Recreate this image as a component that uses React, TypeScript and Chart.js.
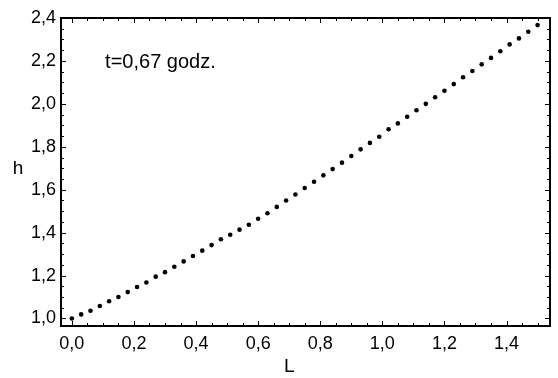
import React, { useEffect, useRef } from "react";
import { Chart, registerables } from "chart.js";

Chart.register(...registerables);

const L_VALUES = [
  0.0, 0.03, 0.06, 0.09, 0.12, 0.15, 0.18, 0.21, 0.24, 0.27,
  0.3, 0.33, 0.36, 0.39, 0.42, 0.45, 0.48, 0.51, 0.54, 0.57,
  0.6, 0.63, 0.66, 0.69, 0.72, 0.75, 0.78, 0.81, 0.84, 0.87,
  0.9, 0.93, 0.96, 0.99, 1.02, 1.05, 1.08, 1.11, 1.14, 1.17,
  1.2, 1.23, 1.26, 1.29, 1.32, 1.35, 1.38, 1.41, 1.44, 1.47,
  1.5,
];

const H_VALUES = [
  1.0, 1.019, 1.036, 1.058, 1.08, 1.1, 1.123, 1.147, 1.168, 1.195,
  1.216, 1.241, 1.266, 1.291, 1.316, 1.342, 1.369, 1.39, 1.414, 1.437,
  1.465, 1.49, 1.52, 1.55, 1.578, 1.608, 1.637, 1.667, 1.696, 1.726,
  1.757, 1.788, 1.818, 1.847, 1.882, 1.909, 1.94, 1.97, 2.0, 2.031,
  2.061, 2.092, 2.124, 2.153, 2.184, 2.214, 2.245, 2.277, 2.305, 2.336,
  2.367,
];

const X_TICKS = [0.0, 0.2, 0.4, 0.6, 0.8, 1.0, 1.2, 1.4];
const Y_TICKS = [1.0, 1.2, 1.4, 1.6, 1.8, 2.0, 2.2, 2.4];
const ANNOTATION = "t=0,67 godz.";
const X_TITLE = "L";
const Y_TITLE = "h";

const FONT = "'Liberation Sans', Arial, sans-serif";

const fmt = (v: number) => v.toFixed(1).replace(".", ",");

const framePlugin = {
  id: "frame",
  afterDraw(chart: any) {
    const { ctx, chartArea: a, scales } = chart;
    const xs = scales.x;
    const ys = scales.y;
    ctx.save();
    ctx.strokeStyle = "#000";
    ctx.lineWidth = 2;
    ctx.strokeRect(a.left, a.top, a.right - a.left, a.bottom - a.top);

    ctx.lineWidth = 1;
    ctx.beginPath();
    for (let i = 0; i <= 30; i++) {
      const v = i * 0.05;
      const px = Math.round(xs.getPixelForValue(v)) + 0.5;
      const len = i % 4 === 0 ? 5 : 3;
      ctx.moveTo(px, a.bottom);
      ctx.lineTo(px, a.bottom - len);
      ctx.moveTo(px, a.top);
      ctx.lineTo(px, a.top + len);
    }
    for (let i = 0; i <= 28; i++) {
      const v = 1.0 + i * 0.05;
      const py = Math.round(ys.getPixelForValue(v)) + 0.5;
      const len = i % 4 === 0 ? 5 : 3;
      ctx.moveTo(a.left, py);
      ctx.lineTo(a.left + len, py);
      ctx.moveTo(a.right, py);
      ctx.lineTo(a.right - len, py);
    }
    ctx.stroke();

    ctx.fillStyle = "#000";
    ctx.font = `20px ${FONT}`;
    ctx.textAlign = "left";
    ctx.textBaseline = "middle";
    ctx.fillText(ANNOTATION, xs.getPixelForValue(0.107), ys.getPixelForValue(2.195));

    ctx.font = `19px ${FONT}`;
    ctx.textAlign = "center";
    ctx.fillText(Y_TITLE, a.left - 43, (a.top + a.bottom) / 2 - 3);
    ctx.fillText(X_TITLE, xs.getPixelForValue(0.7), a.bottom + 41);
    ctx.restore();
  },
};

export default function App() {
  const canvasRef = useRef<HTMLCanvasElement | null>(null);

  useEffect(() => {
    const canvas = canvasRef.current;
    if (!canvas) return;
    const data = L_VALUES.map((l, i) => ({ x: l, y: H_VALUES[i] }));
    const chart = new Chart(canvas, {
      type: "scatter",
      data: {
        datasets: [
          {
            data,
            pointRadius: 2.3,
            pointBackgroundColor: "#000",
            pointBorderWidth: 0,
            showLine: false,
          },
        ],
      },
      options: {
        animation: false,
        responsive: false,
        maintainAspectRatio: false,
        layout: { padding: { left: 0, right: 8, top: 18, bottom: 0 } },
        plugins: {
          legend: { display: false },
          tooltip: { enabled: false },
          title: { display: false },
        },
        scales: {
          x: {
            type: "linear",
            min: -0.035,
            max: 1.54,
            grid: { display: false, drawTicks: false },
            border: { display: false },
            afterBuildTicks: (s: any) => {
              s.ticks = X_TICKS.map((v) => ({ value: v }));
            },
            afterFit: (s: any) => {
              s.height = 52;
            },
            ticks: {
              autoSkip: false,
              maxRotation: 0,
              padding: 7,
              color: "#000",
              font: { family: FONT, size: 18 },
              callback: (v: any) => fmt(Number(v)),
            },
          },
          y: {
            type: "linear",
            min: 0.965,
            max: 2.4,
            grid: { display: false, drawTicks: false },
            border: { display: false },
            afterBuildTicks: (s: any) => {
              s.ticks = Y_TICKS.map((v) => ({ value: v }));
            },
            afterFit: (s: any) => {
              s.width = 61;
            },
            ticks: {
              autoSkip: false,
              padding: 5,
              color: "#000",
              font: { family: FONT, size: 18 },
              callback: (v: any) => fmt(Number(v)),
            },
          },
        },
      },
      plugins: [framePlugin],
    });
    return () => chart.destroy();
  }, []);

  return (
    <div
      style={{
        position: "fixed",
        left: 0,
        top: 0,
        width: 558,
        height: 378,
        background: "#fff",
      }}
    >
      <canvas ref={canvasRef} width={558} height={378} style={{ display: "block" }} />
    </div>
  );
}
